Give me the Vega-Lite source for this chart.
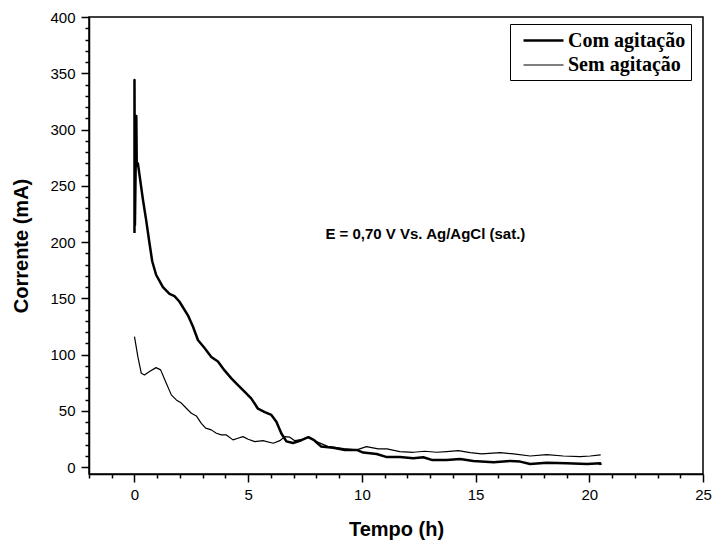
{
  "$schema": "https://vega.github.io/schema/vega-lite/v6.json",
  "width": 614,
  "height": 457,
  "autosize": {"type": "none"},
  "padding": {"left": 89, "top": 17, "right": 10, "bottom": 70},
  "background": "white",
  "config": {
    "font": "Liberation Sans",
    "view": {"stroke": "black", "strokeWidth": 1.5},
    "axis": {"domainColor": "black", "domainWidth": 1.5, "tickColor": "black", "tickWidth": 1.5, "labelColor": "black", "titleColor": "black", "grid": false, "labelOverlap": false}
  },
  "datasets": {
    "curves": [
      {"i": 0, "serie": "Com agitação", "t": 0, "c": 208},
      {"i": 1, "serie": "Com agitação", "t": 0, "c": 344},
      {"i": 2, "serie": "Com agitação", "t": 0.02, "c": 215},
      {"i": 3, "serie": "Com agitação", "t": 0.08, "c": 312},
      {"i": 4, "serie": "Com agitação", "t": 0.1, "c": 268},
      {"i": 5, "serie": "Com agitação", "t": 0.15, "c": 270},
      {"i": 6, "serie": "Com agitação", "t": 0.37, "c": 238},
      {"i": 7, "serie": "Com agitação", "t": 0.51, "c": 220},
      {"i": 8, "serie": "Com agitação", "t": 0.66, "c": 199},
      {"i": 9, "serie": "Com agitação", "t": 0.78, "c": 183},
      {"i": 10, "serie": "Com agitação", "t": 0.95, "c": 171},
      {"i": 11, "serie": "Com agitação", "t": 1.25, "c": 160},
      {"i": 12, "serie": "Com agitação", "t": 1.54, "c": 154},
      {"i": 13, "serie": "Com agitação", "t": 1.76, "c": 152},
      {"i": 14, "serie": "Com agitação", "t": 1.98, "c": 147},
      {"i": 15, "serie": "Com agitação", "t": 2.35, "c": 135},
      {"i": 16, "serie": "Com agitação", "t": 2.57, "c": 125},
      {"i": 17, "serie": "Com agitação", "t": 2.79, "c": 113},
      {"i": 18, "serie": "Com agitação", "t": 3.08, "c": 106},
      {"i": 19, "serie": "Com agitação", "t": 3.38, "c": 98},
      {"i": 20, "serie": "Com agitação", "t": 3.67, "c": 94},
      {"i": 21, "serie": "Com agitação", "t": 3.96, "c": 86},
      {"i": 22, "serie": "Com agitação", "t": 4.26, "c": 79},
      {"i": 23, "serie": "Com agitação", "t": 4.55, "c": 73},
      {"i": 24, "serie": "Com agitação", "t": 4.85, "c": 67},
      {"i": 25, "serie": "Com agitação", "t": 5.14, "c": 61},
      {"i": 26, "serie": "Com agitação", "t": 5.43, "c": 52},
      {"i": 27, "serie": "Com agitação", "t": 5.73, "c": 49},
      {"i": 28, "serie": "Com agitação", "t": 6.02, "c": 46.5},
      {"i": 29, "serie": "Com agitação", "t": 6.24, "c": 40.5},
      {"i": 30, "serie": "Com agitação", "t": 6.46, "c": 30},
      {"i": 31, "serie": "Com agitação", "t": 6.68, "c": 23},
      {"i": 32, "serie": "Com agitação", "t": 6.97, "c": 21.5},
      {"i": 33, "serie": "Com agitação", "t": 7.34, "c": 24},
      {"i": 34, "serie": "Com agitação", "t": 7.64, "c": 26.7},
      {"i": 35, "serie": "Com agitação", "t": 7.9, "c": 24},
      {"i": 36, "serie": "Com agitação", "t": 8.2, "c": 18.5},
      {"i": 37, "serie": "Com agitação", "t": 8.74, "c": 17.4},
      {"i": 38, "serie": "Com agitação", "t": 9.25, "c": 15.4},
      {"i": 39, "serie": "Com agitação", "t": 9.77, "c": 15.4},
      {"i": 40, "serie": "Com agitação", "t": 10.06, "c": 13},
      {"i": 41, "serie": "Com agitação", "t": 10.65, "c": 11.8},
      {"i": 42, "serie": "Com agitação", "t": 11.1, "c": 9},
      {"i": 43, "serie": "Com agitação", "t": 11.67, "c": 9},
      {"i": 44, "serie": "Com agitação", "t": 12.26, "c": 8},
      {"i": 45, "serie": "Com agitação", "t": 12.7, "c": 8.9},
      {"i": 46, "serie": "Com agitação", "t": 13.07, "c": 6.5},
      {"i": 47, "serie": "Com agitação", "t": 13.73, "c": 6.5},
      {"i": 48, "serie": "Com agitação", "t": 14.32, "c": 7.4},
      {"i": 49, "serie": "Com agitação", "t": 14.9, "c": 5.6},
      {"i": 50, "serie": "Com agitação", "t": 15.79, "c": 4.4},
      {"i": 51, "serie": "Com agitação", "t": 16.52, "c": 5.6},
      {"i": 52, "serie": "Com agitação", "t": 16.96, "c": 5},
      {"i": 53, "serie": "Com agitação", "t": 17.4, "c": 2.9},
      {"i": 54, "serie": "Com agitação", "t": 18.13, "c": 4.1},
      {"i": 55, "serie": "Com agitação", "t": 19.0, "c": 3.6},
      {"i": 56, "serie": "Com agitação", "t": 19.9, "c": 2.9},
      {"i": 57, "serie": "Com agitação", "t": 20.48, "c": 3.6},
      {"i": 58, "serie": "Com agitação", "t": 20.5, "c": 2},
      {"i": 100, "serie": "Sem agitação", "t": 0, "c": 116},
      {"i": 101, "serie": "Sem agitação", "t": 0.15, "c": 98},
      {"i": 102, "serie": "Sem agitação", "t": 0.3, "c": 83.5},
      {"i": 103, "serie": "Sem agitação", "t": 0.44, "c": 82},
      {"i": 104, "serie": "Sem agitação", "t": 0.66, "c": 85},
      {"i": 105, "serie": "Sem agitação", "t": 0.95, "c": 88.5},
      {"i": 106, "serie": "Sem agitação", "t": 1.15, "c": 86.5},
      {"i": 107, "serie": "Sem agitação", "t": 1.37, "c": 76},
      {"i": 108, "serie": "Sem agitação", "t": 1.62, "c": 64.3},
      {"i": 109, "serie": "Sem agitação", "t": 1.84, "c": 59.8},
      {"i": 110, "serie": "Sem agitação", "t": 2.06, "c": 57},
      {"i": 111, "serie": "Sem agitação", "t": 2.28, "c": 52.4},
      {"i": 112, "serie": "Sem agitação", "t": 2.5, "c": 48},
      {"i": 113, "serie": "Sem agitação", "t": 2.72, "c": 45.6},
      {"i": 114, "serie": "Sem agitação", "t": 2.94, "c": 39},
      {"i": 115, "serie": "Sem agitação", "t": 3.13, "c": 34.7},
      {"i": 116, "serie": "Sem agitação", "t": 3.38, "c": 33.2},
      {"i": 117, "serie": "Sem agitação", "t": 3.6, "c": 30.2},
      {"i": 118, "serie": "Sem agitação", "t": 3.82, "c": 28.7},
      {"i": 119, "serie": "Sem agitação", "t": 4.04, "c": 28.7},
      {"i": 120, "serie": "Sem agitação", "t": 4.33, "c": 24.3},
      {"i": 121, "serie": "Sem agitação", "t": 4.55, "c": 25.8},
      {"i": 122, "serie": "Sem agitação", "t": 4.77, "c": 27.2},
      {"i": 123, "serie": "Sem agitação", "t": 5.0, "c": 24.9},
      {"i": 124, "serie": "Sem agitação", "t": 5.29, "c": 22.8},
      {"i": 125, "serie": "Sem agitação", "t": 5.65, "c": 23.6},
      {"i": 126, "serie": "Sem agitação", "t": 6.1, "c": 21.3},
      {"i": 127, "serie": "Sem agitação", "t": 6.39, "c": 23.6},
      {"i": 128, "serie": "Sem agitação", "t": 6.61, "c": 27.2},
      {"i": 129, "serie": "Sem agitação", "t": 6.83, "c": 26.7},
      {"i": 130, "serie": "Sem agitação", "t": 7.05, "c": 23.6},
      {"i": 131, "serie": "Sem agitação", "t": 7.41, "c": 24.9},
      {"i": 132, "serie": "Sem agitação", "t": 7.7, "c": 26.7},
      {"i": 133, "serie": "Sem agitação", "t": 8.0, "c": 22.8},
      {"i": 134, "serie": "Sem agitação", "t": 8.5, "c": 18.5},
      {"i": 135, "serie": "Sem agitação", "t": 9.2, "c": 16.5},
      {"i": 136, "serie": "Sem agitação", "t": 9.77, "c": 15.4},
      {"i": 137, "serie": "Sem agitação", "t": 10.2, "c": 18.3},
      {"i": 138, "serie": "Sem agitação", "t": 10.72, "c": 16.3},
      {"i": 139, "serie": "Sem agitação", "t": 11.1, "c": 16.3},
      {"i": 140, "serie": "Sem agitação", "t": 11.67, "c": 13.9},
      {"i": 141, "serie": "Sem agitação", "t": 12.26, "c": 13.3},
      {"i": 142, "serie": "Sem agitação", "t": 12.77, "c": 14.2},
      {"i": 143, "serie": "Sem agitação", "t": 13.29, "c": 13.3},
      {"i": 144, "serie": "Sem agitação", "t": 13.73, "c": 13.9},
      {"i": 145, "serie": "Sem agitação", "t": 14.24, "c": 14.8},
      {"i": 146, "serie": "Sem agitação", "t": 14.76, "c": 13},
      {"i": 147, "serie": "Sem agitação", "t": 15.27, "c": 11.8},
      {"i": 148, "serie": "Sem agitação", "t": 16.08, "c": 13},
      {"i": 149, "serie": "Sem agitação", "t": 16.67, "c": 11.8},
      {"i": 150, "serie": "Sem agitação", "t": 17.4, "c": 10},
      {"i": 151, "serie": "Sem agitação", "t": 18.13, "c": 11.2},
      {"i": 152, "serie": "Sem agitação", "t": 18.86, "c": 10},
      {"i": 153, "serie": "Sem agitação", "t": 19.6, "c": 9.4},
      {"i": 154, "serie": "Sem agitação", "t": 20.04, "c": 10},
      {"i": 155, "serie": "Sem agitação", "t": 20.5, "c": 11}
    ],
    "note": [
      {"t": 12.79, "c": 207, "label": "E = 0,70 V Vs. Ag/AgCl (sat.)"}
    ]
  },
  "encoding": {
    "x": {
      "field": "t", "type": "quantitative",
      "scale": {"domain": [-2, 25], "nice": false, "zero": false},
      "axis": {
        "title": "Tempo (h)",
        "titleFont": "Liberation Sans", "titleFontSize": 20, "titleFontWeight": "bold",
        "titlePadding": 17,
        "values": [-2, -1, 0, 1, 2, 3, 4, 5, 6, 7, 8, 9, 10, 11, 12, 13, 14, 15, 16, 17, 18, 19, 20, 21, 22, 23, 24, 25],
        "labelExpr": "datum.value % 5 === 0 ? datum.label : ''",
        "labelFontSize": 15,
        "labelPadding": 5, "labelFlush": false, "labelOverlap": false,
        "tickSize": {"condition": {"test": "datum.value % 5 === 0", "value": 8}, "value": 4}
      }
    },
    "y": {
      "field": "c", "type": "quantitative",
      "scale": {"domain": [-6, 400], "nice": false, "zero": false},
      "axis": {
        "title": "Corrente (mA)",
        "titleFont": "Liberation Sans", "titleFontSize": 20, "titleFontWeight": "bold",
        "titlePadding": 18,
        "values": [0, 10, 20, 30, 40, 50, 60, 70, 80, 90, 100, 110, 120, 130, 140, 150, 160, 170, 180, 190, 200, 210, 220, 230, 240, 250, 260, 270, 280, 290, 300, 310, 320, 330, 340, 350, 360, 370, 380, 390, 400],
        "labelExpr": "datum.value % 50 === 0 ? datum.label : ''",
        "labelFontSize": 15,
        "labelPadding": 6, "labelFlush": false, "labelOverlap": false,
        "tickSize": {"condition": {"test": "datum.value % 50 === 0", "value": 8}, "value": 4}
      }
    }
  },
  "layer": [
    {
      "data": {"name": "curves"},
      "mark": {"type": "line", "color": "black", "strokeJoin": "round", "strokeCap": "butt", "clip": true},
      "encoding": {
        "order": {"field": "i", "type": "quantitative"},
        "detail": {"field": "serie"},
        "strokeWidth": {
          "field": "serie", "type": "nominal",
          "scale": {"domain": ["Com agitação", "Sem agitação"], "range": [2.5, 1.2]},
          "legend": {
            "title": null,
            "orient": "none", "legendX": 421, "legendY": 7,
            "strokeColor": "black", "fillColor": "white",
            "padding": 5,
            "symbolType": "M-2,0H2", "symbolSize": 400, "symbolStrokeColor": "black", "symbolFillColor": "transparent", "symbolOffset": 17,
            "labelFont": "Liberation Serif", "labelFontSize": 20, "labelFontWeight": "bold", "labelColor": "black",
            "labelOffset": 13, "rowPadding": 3
          }
        }
      }
    },
    {
      "data": {"name": "note"},
      "mark": {"type": "text", "font": "Liberation Sans", "fontSize": 15, "fontWeight": "bold", "color": "black", "align": "center", "baseline": "middle"},
      "encoding": {
        "text": {"field": "label"}
      }
    }
  ]
}
